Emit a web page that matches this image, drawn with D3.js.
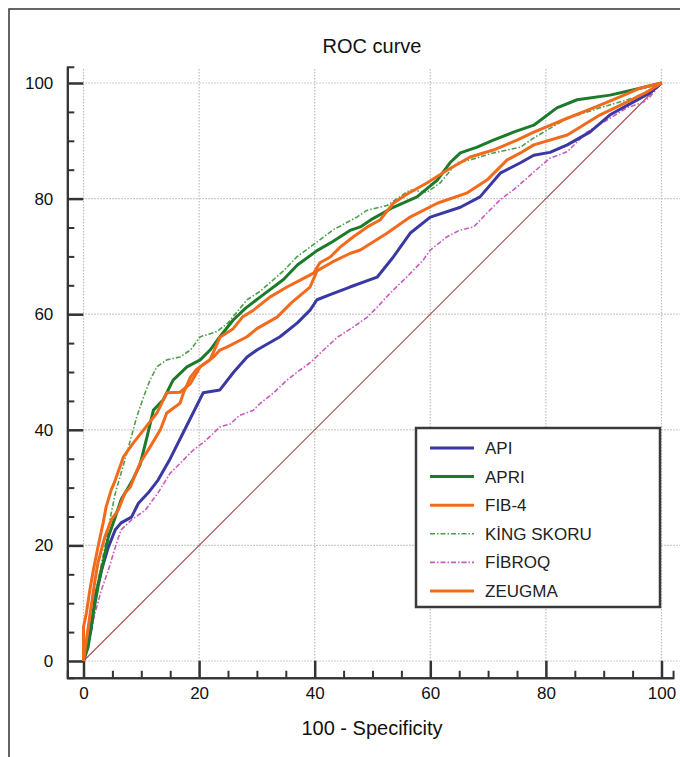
<!DOCTYPE html>
<html>
<head>
<meta charset="utf-8">
<script src="https://cdn.jsdelivr.net/npm/d3@7"></script>
<style>
  body { margin: 0; background: #fff; }
  svg { display: block; font-family: "Liberation Sans", Arial, sans-serif; }
</style>
</head>
<body>
<div id="chart"></div>
<script>
/* ROC curves of six fibrosis scores */

// [100 - specificity, sensitivity]
const api = [[0,0],[1.3,5.4],[2,11.1],[3.1,15.7],[4.3,19.7],[5.5,22.7],[6.5,23.9],[8.3,24.9],[9.5,27.3],[11.2,29.1],[12.9,31.3],[15,35],[17.2,39.4],[19,43],[20.7,46.4],[23.6,46.9],[26,50],[28.3,52.6],[30,53.8],[34,56.1],[37,58.5],[39.2,60.7],[40.4,62.5],[43,63.5],[46.1,64.7],[50.8,66.4],[53.6,69.9],[56.5,74],[60,76.8],[65.2,78.5],[68.6,80.3],[72.1,84.4],[75.6,86.2],[77.9,87.5],[80.7,88],[83.7,89.3],[87.6,91.5],[91.1,94.5],[95.1,96.7],[98,98.3],[100,100]];

const apri = [[0,0],[0.8,2.4],[1.7,8.3],[2.5,12.8],[3.4,17],[4.3,21.5],[5.5,24.9],[6.5,27.9],[7.8,30.1],[8.6,31.5],[9.8,34],[11,38.8],[12.1,43.4],[13.8,45.2],[15.5,48.6],[17.9,50.9],[20.2,52.1],[21.9,53.8],[23.6,56.1],[25.9,59],[28,61],[30.6,63],[34.6,66],[37,68.5],[40.4,71],[43,72.5],[46.1,74.5],[47.9,75.1],[50,76.5],[53.6,78.5],[57.7,80.3],[61.2,83.2],[63.4,86.2],[65.2,87.9],[68.1,88.9],[70.9,90.1],[74.4,91.5],[77.9,92.7],[81.9,95.7],[85.4,97.1],[91.1,97.9],[96.3,99.1],[100,100]];

const fib4 = [[0,0],[0,5.9],[0.5,8.3],[1.1,12.3],[1.7,15.7],[2.5,19.7],[3.4,23.9],[3.9,26.6],[4.8,29.6],[5.5,31.3],[6.9,35.3],[8.6,37.7],[10.4,40],[12.7,42.9],[14.4,46.4],[16.7,46.5],[18.5,48],[20.2,50.9],[22.5,52.6],[23.6,53.8],[24.8,54.3],[28.3,56.1],[30,57.5],[33.5,59.5],[36,62],[39.2,64.7],[40.4,67.5],[43,69],[46.1,70.5],[47.9,71.1],[52.5,74],[56.5,76.8],[61.2,79.2],[66.4,81],[69.8,83.2],[73.3,86.7],[75.6,87.9],[77.9,89.3],[83.7,91],[89.4,94.5],[94,96.7],[97.4,98.4],[100,100]];

const king = [[0,0],[1,5],[2.5,14],[3.7,19.7],[4.8,25.6],[5.5,29],[6.3,31.8],[7.5,36],[8.6,40],[9.2,42.2],[10.4,45.7],[11.5,48.6],[12.7,50.9],[14.4,52.1],[16.7,52.6],[18.5,53.8],[20.2,56.1],[23.1,57],[25,58.5],[28.3,62.5],[30.6,64],[34.6,67.5],[37,70],[40.4,72.5],[43.2,74.6],[47.3,76.8],[49.1,78],[52.5,78.8],[56.5,81.5],[59.4,81.1],[61.7,82.7],[64.6,86.2],[66.9,86.7],[70.9,87.9],[75.6,88.9],[77.9,90.5],[83.7,93.9],[89.4,95.7],[95.1,97.4],[98,98.8],[100,100]];

const fibroq = [[0,0],[1,4],[2,8.3],[3.1,12.3],[4.3,15.7],[5.5,19.7],[6.5,22.7],[8.3,24.4],[10.7,26.1],[12.9,29.1],[15,32.5],[17,34.5],[19,36.5],[21,38],[23.6,40.5],[25.4,41],[27,42.5],[29.4,43.4],[30.6,44.6],[33,46.5],[35.2,48.6],[37,50],[39.2,51.6],[41,53.3],[43.9,56],[47,58],[49.1,59.5],[50.8,61.2],[53.1,63.7],[56,66.5],[58.8,69.4],[60,71.1],[62.9,73.4],[65,74.5],[67.5,75.1],[69.8,77.5],[72.1,79.8],[75,82],[77.9,84.6],[80.7,87],[83.7,88.1],[87.1,91.5],[91.1,93.9],[94,95.7],[96.9,96.7],[98,97.6],[100,100]];

const zeugma = [[0,0],[1.3,9.3],[2,14],[2.5,17],[3.7,21.5],[4.8,24.4],[6,26.1],[7.2,29.1],[8.1,30.1],[9.8,34.3],[11.5,37],[13.3,40],[14.4,42.9],[16.7,44.6],[17.3,46.4],[18.5,49.1],[19.6,50.5],[21.9,52.1],[23.6,56],[25.9,57.5],[27.5,59.5],[29.4,60.7],[32.3,63],[35.2,64.7],[37.5,65.9],[39.8,67.1],[40.9,68.9],[42.7,69.9],[44.4,71.6],[46.7,73.4],[49.1,75.1],[51.3,76.3],[53.6,79.2],[56,80.8],[59.4,82.7],[62.9,84.9],[66.9,87.2],[70.9,88.4],[75,90.1],[77.9,91.5],[83.7,93.9],[88.2,95.7],[92.3,97.4],[96.3,99.1],[100,100]];

const reference = [[0,0],[100,100]];

const names = ["API", "APRI", "FIB-4", "KİNG SKORU", "FİBROQ", "ZEUGMA"];
const majorTicks = [0, 20, 40, 60, 80, 100];

const styles = {
    "API":        { color: "#3a39a3", width: 3,   dash: null },
    "APRI":       { color: "#1c7a2b", width: 3,   dash: null },
    "FIB-4":      { color: "#f26b1d", width: 3,   dash: null },
    "KİNG SKORU": { color: "#4d9e4d", width: 1.6, dash: "5,2,1.5,2" },
    "FİBROQ":     { color: "#c95bbf", width: 1.6, dash: "5,2,1.5,2" },
    "ZEUGMA":     { color: "#f26b1d", width: 3,   dash: null }
};
const series = { "API": api, "APRI": apri, "FIB-4": fib4, "KİNG SKORU": king, "FİBROQ": fibroq, "ZEUGMA": zeugma };

const width = 680, height = 757;

const x = d3.scaleLinear().domain([0, 100]).range([83.5, 661.5]);
const y = d3.scaleLinear().domain([0, 100]).range([661, 83]);

const svg = d3.select("#chart").append("svg")
    .attr("width", width)
    .attr("height", height);

// outer frame
svg.append("path")
    .attr("d", `M9,${height + 5} V9 H${width + 5}`)
    .attr("fill", "none")
    .attr("stroke", "#333")
    .attr("stroke-width", 1.5);

svg.append("text")
    .attr("x", 372).attr("y", 53)
    .attr("text-anchor", "middle")
    .attr("font-size", 20)
    .attr("fill", "#111")
    .text("ROC curve");

// grid
const axisY = y(-2.9), axisX = x(-2.8);
svg.append("g").selectAll("line.vg")
    .data(majorTicks).join("line")
    .attr("x1", d => x(d)).attr("x2", d => x(d))
    .attr("y1", 69).attr("y2", axisY)
    .attr("stroke", "#bdbdbd").attr("stroke-width", 1.2)
    .attr("stroke-dasharray", "1.5,1.5");
svg.append("g").selectAll("line.hg")
    .data(majorTicks).join("line")
    .attr("x1", axisX).attr("x2", width)
    .attr("y1", d => y(d)).attr("y2", d => y(d))
    .attr("stroke", "#bdbdbd").attr("stroke-width", 1.2)
    .attr("stroke-dasharray", "1.5,1.5");

// axes
const xa = x.copy().domain([-2.8, 102]).range([x(-2.8), x(102)]);
const ya = y.copy().domain([-2.9, 102.8]).range([y(-2.9), y(102.8)]);
const minor = d3.range(0, 101, 5).filter(d => d % 20 !== 0);

const axisStyle = g => {
    g.selectAll("path, line").attr("stroke", "#333").attr("stroke-width", 2);
    g.selectAll("text").attr("fill", "#111").attr("font-size", 17)
        .attr("font-family", "Liberation Sans, Arial, sans-serif");
};

svg.append("g")
    .attr("transform", `translate(0,${axisY})`)
    .call(d3.axisBottom(xa).tickValues(minor).tickSize(-7).tickFormat(""))
    .call(axisStyle);
svg.append("g")
    .attr("transform", `translate(0,${axisY})`)
    .call(d3.axisBottom(xa).tickValues(majorTicks).tickSizeInner(-17).tickSizeOuter(0).tickPadding(9))
    .call(axisStyle)
    .call(g => g.selectAll(".tick line").attr("stroke-width", 2.5));

svg.append("g")
    .attr("transform", `translate(${axisX},0)`)
    .call(d3.axisLeft(ya).tickValues(minor).tickSize(-7).tickFormat(""))
    .call(axisStyle);
svg.append("g")
    .attr("transform", `translate(${axisX},0)`)
    .call(d3.axisLeft(ya).tickValues(majorTicks).tickSizeInner(-16).tickSizeOuter(0).tickPadding(14))
    .call(axisStyle)
    .call(g => g.selectAll(".tick line").attr("stroke-width", 2.5));

svg.append("text")
    .attr("x", 372).attr("y", 735)
    .attr("text-anchor", "middle")
    .attr("font-size", 20)
    .attr("fill", "#111")
    .text("100 - Specificity");

// curves
const line = d3.line().x(d => x(d[0])).y(d => y(d[1]));

svg.append("path")
    .attr("d", line(reference))
    .attr("fill", "none")
    .attr("stroke", "#b04a48")
    .attr("stroke-width", 1.1);

const drawOrder = ["FİBROQ", "API", "KİNG SKORU", "APRI", "ZEUGMA", "FIB-4"];
svg.append("g").selectAll("path")
    .data(drawOrder).join("path")
    .attr("d", d => line(series[d]))
    .attr("fill", "none")
    .attr("stroke", d => styles[d].color)
    .attr("stroke-width", d => styles[d].width)
    .attr("stroke-dasharray", d => styles[d].dash)
    .attr("stroke-linejoin", "round");

// legend
const lg = svg.append("g").attr("transform", "translate(416,428)");
lg.append("rect")
    .attr("width", 244).attr("height", 179)
    .attr("fill", "#fff")
    .attr("stroke", "#3a3a3a")
    .attr("stroke-width", 2.5);

const item = lg.selectAll("g.item")
    .data(names).join("g")
    .attr("transform", (d, i) => `translate(0,${20 + i * 28.6})`);
item.append("line")
    .attr("x1", 14).attr("x2", 58)
    .attr("stroke", d => styles[d].color)
    .attr("stroke-width", d => styles[d].width)
    .attr("stroke-dasharray", d => styles[d].dash);
item.append("text")
    .attr("x", 69).attr("y", 6)
    .attr("font-size", 17)
    .attr("fill", "#222")
    .text(d => d);
</script>
</body>
</html>
